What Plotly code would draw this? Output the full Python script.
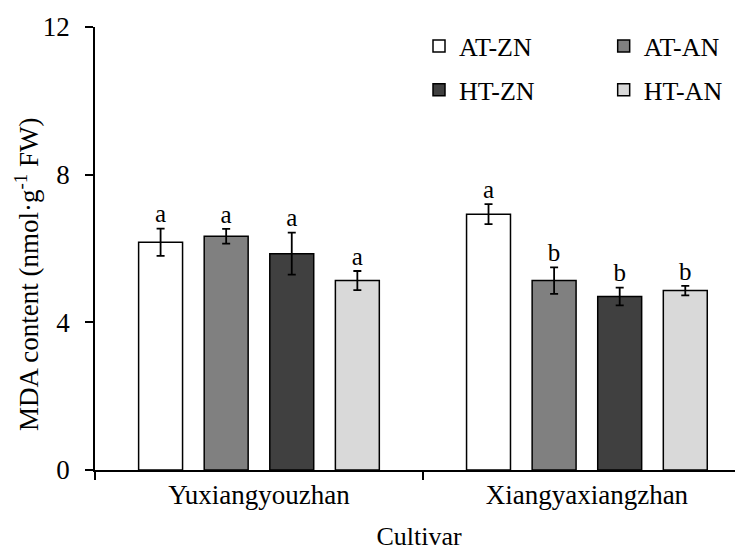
import plotly.graph_objects as go

cultivars = ["Yuxiangyouzhan", "Xiangyaxiangzhan"]
treatments = ["AT-ZN", "AT-AN", "HT-ZN", "HT-AN"]
means = {
    "AT-ZN": [6.17, 6.93],
    "AT-AN": [6.33, 5.13],
    "HT-ZN": [5.86, 4.70],
    "HT-AN": [5.13, 4.86],
}
errors = {
    "AT-ZN": [0.37, 0.27],
    "AT-AN": [0.20, 0.36],
    "HT-ZN": [0.57, 0.24],
    "HT-AN": [0.26, 0.13],
}
letters = {
    "AT-ZN": ["a", "a"],
    "AT-AN": ["a", "b"],
    "HT-ZN": ["a", "b"],
    "HT-AN": ["a", "b"],
}
y_ticks = [0, 4, 8, 12]
colors = {"AT-ZN": "#ffffff", "AT-AN": "#808080", "HT-ZN": "#404040", "HT-AN": "#d9d9d9"}
legend_of = {"AT-ZN": "legend", "HT-ZN": "legend", "AT-AN": "legend2", "HT-AN": "legend2"}

FONT = "Liberation Serif, Times New Roman, serif"
GAP = 0.2

fig = go.Figure()
for t in treatments:
    fig.add_trace(go.Bar(
        x=cultivars, y=means[t], name=t, offsetgroup=t,
        marker=dict(color=colors[t], line=dict(color="#000000", width=1.5)),
        error_y=dict(type="data", array=errors[t], color="#000000", thickness=1.8, width=4),
        legend=legend_of[t], legendgroup=t,
    ))
for t in treatments:
    tops = [m + e for m, e in zip(means[t], errors[t])]
    fig.add_trace(go.Scatter(
        x=cultivars, y=tops, mode="text", text=letters[t], offsetgroup=t,
        textposition="top center", textfont=dict(family=FONT, size=25, color="#000"),
        showlegend=False, hoverinfo="skip",
    ))

fig.add_annotation(
    text="MDA content (nmol·g<sup>-1</sup> FW)", textangle=-90,
    xref="paper", yref="paper", x=0, y=0.44, xanchor="center", yanchor="middle",
    xshift=-68, showarrow=False, font=dict(family=FONT, size=27, color="#000"),
)

fig.update_layout(
    width=735, height=544,
    margin=dict(l=87, r=0, t=19, b=82),
    paper_bgcolor="white", plot_bgcolor="white",
    barmode="group", bargap=GAP, bargroupgap=0.33,
    scattermode="group", scattergap=GAP,
    font=dict(family=FONT, size=26, color="#000"),
    xaxis=dict(
        title=dict(text="Cultivar", font=dict(size=26), standoff=18),
        range=[-0.5, 1.476],
        tickfont=dict(size=27),
        showline=True, linecolor="#000", linewidth=1.5,
        ticks="outside", tickson="boundaries", ticklen=8, tickwidth=1.5, tickcolor="#000",
        showgrid=False, zeroline=False,
    ),
    yaxis=dict(
        range=[0, 12], tickvals=y_ticks,
        tickfont=dict(size=27),
        showline=True, linecolor="#000", linewidth=1.5,
        ticks="outside", ticklen=8, tickwidth=1.5, tickcolor="#000",
        ticklabelstandoff=10,
        showgrid=False, zeroline=False,
    ),
    legend=dict(x=0.5, y=1.01, xanchor="left", yanchor="top", font=dict(size=26),
                tracegroupgap=7, bgcolor="rgba(0,0,0,0)"),
    legend2=dict(x=0.785, y=1.01, xanchor="left", yanchor="top", font=dict(size=26),
                 tracegroupgap=7, bgcolor="rgba(0,0,0,0)"),
    showlegend=True,
)

fig.write_html("out.html")
